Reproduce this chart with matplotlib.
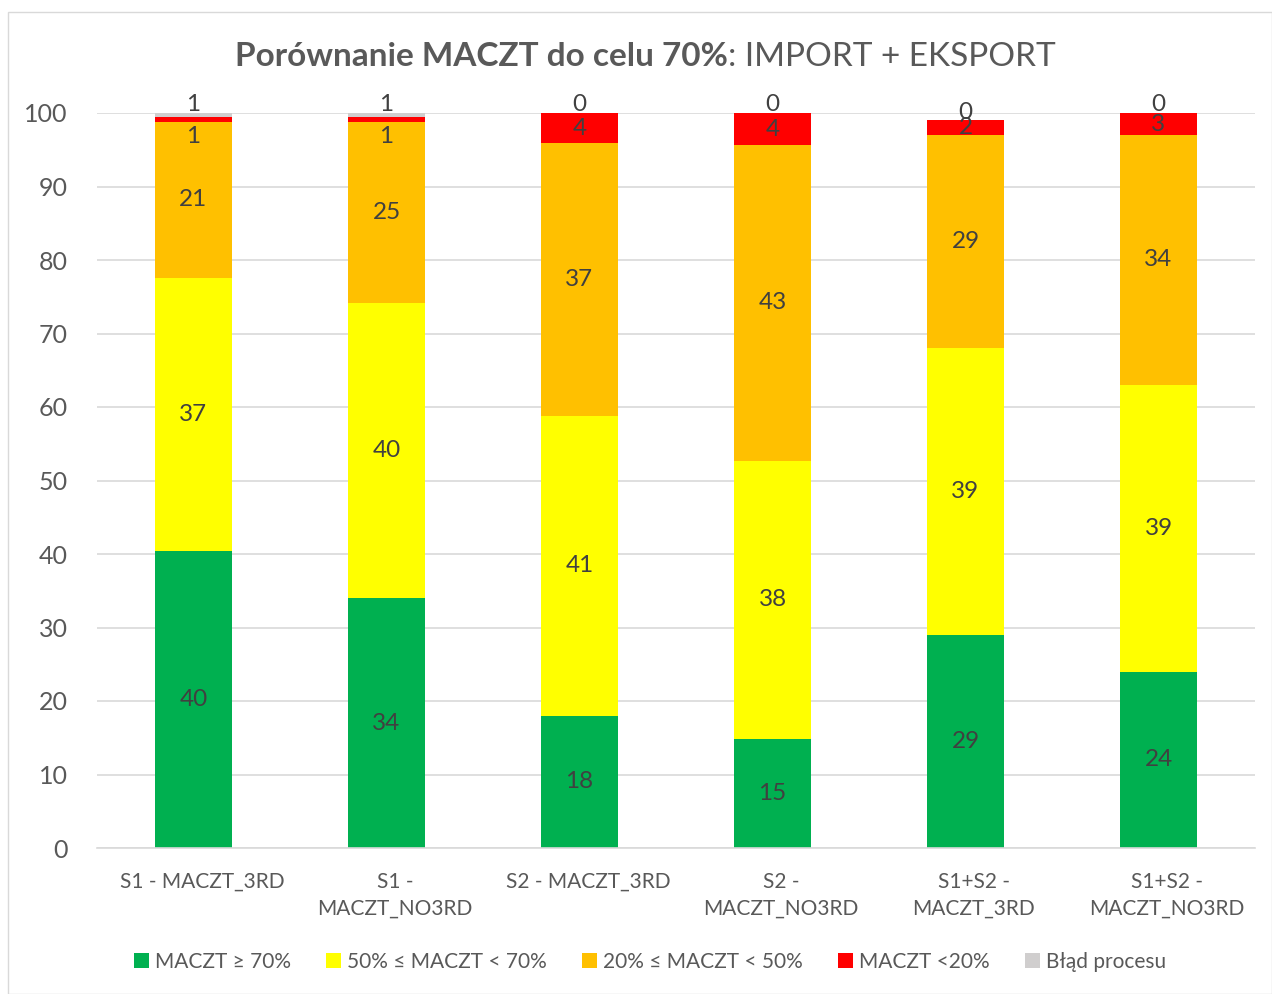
import numpy as np
import matplotlib
matplotlib.use("Agg")
import matplotlib.pyplot as plt
import matplotlib.transforms as mtransforms
from matplotlib.patches import Rectangle

categories = ["S1 - MACZT_3RD", "S1 -\nMACZT_NO3RD", "S2 - MACZT_3RD",
              "S2 -\nMACZT_NO3RD", "S1+S2 -\nMACZT_3RD", "S1+S2 -\nMACZT_NO3RD"]
series_names = ["MACZT ≥ 70%", "50% ≤ MACZT < 70%", "20% ≤ MACZT < 50%",
                "MACZT <20%", "Błąd procesu"]
green = [40.4, 34.0, 18.0, 14.8, 29.0, 24.0]
yellow = [37.2, 40.2, 40.8, 37.9, 39.0, 39.0]
orange = [21.2, 24.6, 37.1, 42.9, 29.0, 34.0]
red = [0.6, 0.6, 4.1, 4.4, 2.0, 3.0]
grey = [0.6, 0.6, 0.0, 0.0, 0.0, 0.0]
yticks = [0, 10, 20, 30, 40, 50, 60, 70, 80, 90, 100]

colors = ["#00B050", "#FFFF00", "#FFC000", "#FF0000", "#D0CECE"]
txt = "#595959"
lbl = "#404040"
plt.rcParams["font.family"] = ["Lato", "DejaVu Sans"]

W, H = 1272, 994
fig = plt.figure(figsize=(W / 100, H / 100), dpi=100)
fig.patches.append(Rectangle((8 / W, 0), 1 - 8 / W, 1 - 12 / H, transform=fig.transFigure,
                             fill=False, edgecolor="#D9D9D9", linewidth=1))
ax = fig.add_axes([97 / W, (H - 848) / H, (1255 - 97) / W, (848 - 113) / H])

x = np.arange(len(categories))
bw = 0.404
bottom = np.zeros(len(categories))
series = [green, yellow, orange, red, grey]
for i, (vals, c, name) in enumerate(zip(series, colors, series_names)):
    vals = np.array(vals)
    ax.bar(x, vals, bw, bottom=bottom, color=c, label=name, zorder=2)
    for j, v in enumerate(vals):
        s = f"{v:.0f}"
        if i == 4:
            top = bottom[j] + v
            ax.annotate(s, (x[j], top), xytext=(0, 6), textcoords="offset points",
                        ha="center", va="center", fontsize=17.5, color=lbl, annotation_clip=False)
        elif i == 3 and v < 1:
            ax.annotate(s, (x[j], bottom[j] + v / 2), xytext=(0, -12), textcoords="offset points",
                        ha="center", va="center", fontsize=17.5, color=lbl)
        else:
            ax.text(x[j], bottom[j] + v / 2, s, ha="center", va="center",
                    fontsize=17.5, color=lbl)
    bottom += vals

ax.set_xlim(-0.5, len(categories) - 0.5)
ax.set_ylim(0, 100)
ax.set_yticks(yticks)
ax.set_xticks(x)
ax.set_xticklabels(categories, fontsize=15, color=txt, linespacing=1.45)
ax.tick_params(axis="y", labelsize=18, labelcolor=txt, length=0, pad=21)
ax.tick_params(axis="x", length=0, pad=17)
# excel draws the category labels a few pixels right of the bar centre
shift = mtransforms.ScaledTranslation(6 / 72, 0, fig.dpi_scale_trans)
for t in ax.get_xticklabels():
    t.set_transform(t.get_transform() + shift)
ax.grid(axis="y", color="#D9D9D9", linewidth=1.2, zorder=0)
for sp in ["top", "right", "left"]:
    ax.spines[sp].set_visible(False)
ax.spines["bottom"].set_color("#D9D9D9")
ax.spines["bottom"].set_linewidth(1.2)

# title: bold part + regular part, centred together
ty = 1 - 57 / H
t1 = fig.text(0, ty, "Porównanie MACZT do celu 70%", fontsize=24, fontweight="bold",
              color=txt, ha="left", va="center")
t2 = fig.text(0, ty, ": IMPORT + EKSPORT", fontsize=24, color=txt, ha="left", va="center")
fig.canvas.draw()
r = fig.canvas.get_renderer()
w1 = t1.get_window_extent(r).width / W
w2 = t2.get_window_extent(r).width / W
x0 = 645 / W - (w1 + w2) / 2
t1.set_x(x0)
t2.set_x(x0 + w1)

fig.legend(loc="center", bbox_to_anchor=(0.511, (H - 962) / H), ncol=5, frameon=False,
           fontsize=15, handlelength=0.7, handleheight=0.7, handletextpad=0.3,
           columnspacing=1.7, labelcolor=txt)

fig.savefig("out.png", dpi=100)
